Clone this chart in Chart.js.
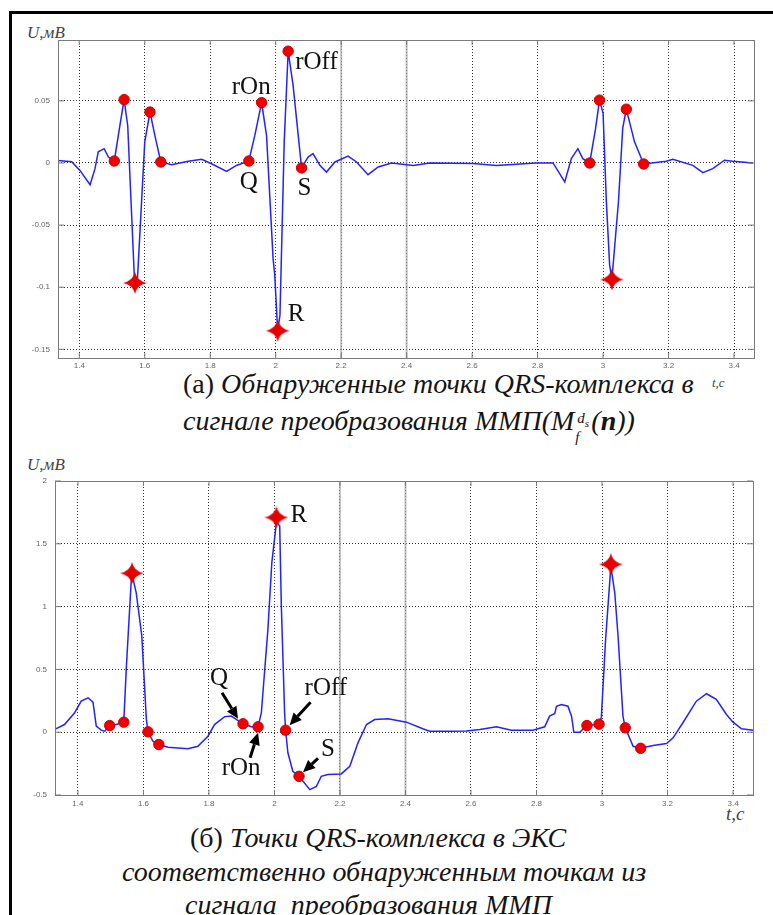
<!DOCTYPE html>
<html>
<head>
<meta charset="utf-8">
<script src="https://cdn.jsdelivr.net/npm/chart.js@4.4.1/dist/chart.umd.min.js"></script>
<style>
body { margin: 0; background: #fff; }
#page { position: relative; width: 773px; height: 915px; overflow: hidden; background: #fff; }
#frame { position: absolute; left: 9px; top: 11px; width: 820px; height: 960px; border: 3px solid #000; }
canvas { position: absolute; left: 0; }
.cap { position: absolute; font-family: serif; font-style: italic; font-size: 28px; line-height: 34px; color: #151515; white-space: nowrap; }
.up { font-style: normal; }
.lab { position: absolute; font-family: serif; font-style: italic; color: #444; white-space: nowrap; }
.ds { display: inline-block; position: relative; width: 17px; height: 20px; }
.ds .sp { position: absolute; left: 3px; top: -9px; font-size: 15px; }
.ds .sp sub { font-size: 11px; }
.ds .sb { position: absolute; left: 1px; top: 10px; font-size: 15px; }
</style>
</head>
<body>
<div id="page">
  <div id="frame"></div>
  <div class="lab" style="left:27px;top:23px;font-size:17px">U,мВ</div>
  <div class="lab" style="left:27px;top:455px;font-size:17px">U,мВ</div>
  <div class="lab" style="left:712px;top:375px;font-size:13px">t,c</div>
  <div class="lab" style="left:726px;top:803px;font-size:19px">t,c</div>

  <div class="cap" style="top:367px;left:183px"><span class="up">(а)</span> Обнаруженные точки QRS-комплекса в</div>
  <div class="cap" style="top:404px;left:183px">сигнале преобразования ММП(M<span class="ds"><span class="sp">d<sub>s</sub></span><span class="sb">f</span></span>(<b>n</b>))</div>

  <div class="cap" style="top:821px;left:190px"><span class="up">(б)</span> Точки QRS-комплекса в ЭКС</div>
  <div class="cap" style="top:855px;left:122px">соответственно обнаруженным точкам из</div>
  <div class="cap" style="top:888px;left:185px">сигнала&nbsp; преобразования ММП</div>

  <canvas id="chartA" width="773" height="380" style="top:0px"></canvas>
  <canvas id="chartB" width="773" height="375" style="top:440px"></canvas>
</div>

<script>
// оси
const xTicks = [1.4, 1.6, 1.8, 2, 2.2, 2.4, 2.6, 2.8, 3, 3.2, 3.4];
const xTickLabels = ['1.4', '1.6', '1.8', '2', '2.2', '2.4', '2.6', '2.8', '3', '3.2', '3.4'];
const yTicksA = [-0.15, -0.1, -0.05, 0, 0.05];
const yTickLabelsA = ['-0.15', '-0.1', '-0.05', '0', '0.05'];
const yTicksB = [-0.5, 0, 0.5, 1, 1.5, 2];
const yTickLabelsB = ['-0.5', '0', '0.5', '1', '1.5', '2'];
const solidGridT = [2.2, 2.4];

// (а) сигнал преобразования ММП
const tA = [1.335, 1.377, 1.402, 1.433, 1.448, 1.458, 1.476, 1.489, 1.507, 1.524, 1.537, 1.548, 1.568, 1.570, 1.578,
  1.600, 1.616, 1.631, 1.649, 1.682, 1.733, 1.774, 1.804, 1.850, 1.880, 1.918, 1.936, 1.957, 1.972, 1.992, 1.997,
  2.006, 2.013, 2.026, 2.038, 2.053, 2.079, 2.099, 2.114, 2.135, 2.155, 2.181, 2.221, 2.247, 2.282, 2.313, 2.354,
  2.420, 2.471, 2.603, 2.674, 2.796, 2.847, 2.883, 2.903, 2.923, 2.938, 2.959, 2.977, 2.989, 3.000, 3.010, 3.020,
  3.027, 3.047, 3.060, 3.071, 3.096, 3.124, 3.193, 3.213, 3.274, 3.305, 3.335, 3.371, 3.396, 3.458];
const uA = [0.002, 0.001, -0.006, -0.0175, -0.0046, 0.009, 0.0115, 0.0048, 0.0016, 0.030, 0.051, 0.030, -0.0906, -0.0965, -0.092,
  0.017, 0.041, 0.022, 0.0008, -0.0014, 0.0014, 0.003, -0.0006, -0.0067, -0.002, 0.0016, 0.022, 0.0486, 0.022, -0.077, -0.090,
  -0.135, -0.1226, 0.017, 0.090, 0.0627, -0.004, 0.0048, 0.0075, -0.0019, -0.0073, 0.0008, 0.0056, 0.0008, -0.0094, -0.0032, 0,
  -0.002, 0, -0.0005, -0.002, 0, 0, -0.0153, 0.0035, 0.0115, 0.0035, 0, 0.0277, 0.0506, 0.040, -0.031, -0.082,
  -0.0938, -0.031, 0.028, 0.0433, 0.017, -0.0008, 0.0014, 0.003, -0.0019, -0.0078, -0.0046, 0.0022, 0.0014, 0];
const dotTA = [1.507, 1.537, 1.616, 1.649, 1.918, 1.957, 2.038, 2.079, 2.959, 2.989, 3.071, 3.124];
const dotUA = [0.0016, 0.051, 0.041, 0.0008, 0.0016, 0.0486, 0.090, -0.004, 0, 0.0506, 0.0433, -0.0008];
const starTA = [1.570, 2.006, 3.027];
const starUA = [-0.0965, -0.135, -0.0938];

// (б) ЭКС
const tB = [1.329, 1.359, 1.390, 1.410, 1.431, 1.446, 1.456, 1.471, 1.482, 1.497, 1.517, 1.540, 1.548, 1.563, 1.565,
  1.578, 1.595, 1.609, 1.614, 1.629, 1.647, 1.675, 1.736, 1.766, 1.797, 1.817, 1.848, 1.868, 1.904, 1.929, 1.950,
  1.960, 1.980, 1.992, 2.006, 2.016, 2.021, 2.031, 2.034, 2.041, 2.056, 2.075, 2.108, 2.128, 2.143, 2.163, 2.204,
  2.230, 2.255, 2.281, 2.306, 2.347, 2.403, 2.453, 2.474, 2.535, 2.586, 2.627, 2.678, 2.723, 2.789, 2.825, 2.840,
  2.856, 2.861, 2.876, 2.896, 2.907, 2.914, 2.932, 2.954, 2.991, 2.998, 3.011, 3.027, 3.039, 3.049, 3.064, 3.071,
  3.095, 3.118, 3.156, 3.197, 3.217, 3.247, 3.288, 3.319, 3.349, 3.380, 3.400, 3.426, 3.461];
const uB = [0.022, 0.061, 0.155, 0.247, 0.274, 0.239, 0.048, 0.016, 0.008, 0.053, 0.061, 0.080, 0.526, 1.218, 1.26,
  1.110, 0.766, 0.100, 0.003, -0.072, -0.098, -0.120, -0.132, -0.112, -0.032, 0.061, 0.123, 0.128, 0.067, 0.043, 0.043,
  0.155, 0.819, 1.351, 1.670, 1.643, 1.005, 0.155, 0.016, -0.164, -0.311, -0.351, -0.457, -0.431, -0.351, -0.337, -0.332,
  -0.271, -0.085, 0.061, 0.101, 0.107, 0.080, 0.027, 0.008, 0.008, 0.010, 0.022, 0.043, 0.016, 0.016, 0.043, 0.128,
  0.149, 0.207, 0.221, 0.207, 0.128, 0.0, 0.0, 0.053, 0.064, 0.120, 0.739, 1.320, 1.110, 0.766, 0.128, 0.035,
  -0.112, -0.128, -0.106, -0.090, -0.045, 0.075, 0.247, 0.306, 0.261, 0.141, 0.080, 0.027, 0.016];
const dotTB = [1.497, 1.540, 1.614, 1.647, 1.904, 1.950, 2.034, 2.075, 2.954, 2.991, 3.071, 3.118];
const dotUB = [0.053, 0.080, 0.003, -0.098, 0.067, 0.043, 0.016, -0.351, 0.053, 0.064, 0.035, -0.128];
const starTB = [1.565, 2.006, 3.027];
const starUB = [1.266, 1.710, 1.337];

const toPts = (xs, ys) => xs.map((x, i) => ({ x: x, y: ys[i] }));

function starMark(w, h, k) {
  const c = document.createElement('canvas');
  c.width = w; c.height = h;
  const g = c.getContext('2d');
  const cx = w / 2, cy = h / 2;
  g.fillStyle = '#e60000';
  g.beginPath();
  g.moveTo(cx, 0);
  g.quadraticCurveTo(cx + k, cy - k, w, cy);
  g.quadraticCurveTo(cx + k, cy + k, cx, h);
  g.quadraticCurveTo(cx - k, cy + k, 0, cy);
  g.quadraticCurveTo(cx - k, cy - k, cx, 0);
  g.fill();
  return c;
}
const star = starMark(24, 22, 2);

// рамка осей и внутренние штрихи как в MATLAB
const boxPlugin = {
  id: 'box',
  beforeDatasetsDraw(chart) {
    const { ctx, chartArea: a, scales } = chart;
    ctx.save();
    ctx.strokeStyle = 'rgba(165,165,165,0.7)';
    ctx.lineWidth = 2;
    solidGridT.forEach(t => {
      const x = scales.x.getPixelForValue(t);
      ctx.beginPath(); ctx.moveTo(x, a.top); ctx.lineTo(x, a.bottom); ctx.stroke();
    });
    ctx.restore();
  },
  afterDraw(chart) {
    const { ctx, chartArea: a, scales } = chart;
    ctx.save();
    ctx.strokeStyle = '#7a7a7a';
    ctx.lineWidth = 1;
    ctx.strokeRect(a.left + 0.5, a.top + 0.5, a.width, a.height);
    ctx.beginPath();
    scales.x.ticks.forEach(t => {
      const x = scales.x.getPixelForValue(t.value);
      ctx.moveTo(x, a.bottom); ctx.lineTo(x, a.bottom - 5);
      ctx.moveTo(x, a.top); ctx.lineTo(x, a.top + 5);
    });
    scales.y.ticks.forEach(t => {
      const y = scales.y.getPixelForValue(t.value);
      ctx.moveTo(a.left, y); ctx.lineTo(a.left + 6, y);
      ctx.moveTo(a.right, y); ctx.lineTo(a.right - 6, y);
    });
    ctx.stroke();
    ctx.restore();
  }
};

// подписи точек и стрелки
const notesPlugin = {
  id: 'notes',
  afterDatasetsDraw(chart, args, opts) {
    const ctx = chart.ctx;
    ctx.save();
    ctx.font = '25px "Liberation Serif", serif';
    ctx.fillStyle = '#111';
    ctx.strokeStyle = '#000';
    ctx.textBaseline = 'alphabetic';
    (opts.items || []).forEach(n => {
      const el = chart.getDatasetMeta(n.ds).data[n.i];
      ctx.textAlign = n.align;
      ctx.fillText(n.text, el.x + n.dx, el.y + n.dy);
      if (n.arrow) {
        const [sx, sy, ex, ey] = n.arrow;
        const x1 = el.x + sx, y1 = el.y + sy, x2 = el.x + ex, y2 = el.y + ey;
        const ang = Math.atan2(y2 - y1, x2 - x1);
        const hl = 12, hw = 5.5;
        const bx = x2 - hl * Math.cos(ang), by = y2 - hl * Math.sin(ang);
        ctx.lineWidth = 3;
        ctx.beginPath(); ctx.moveTo(x1, y1); ctx.lineTo(bx, by); ctx.stroke();
        ctx.beginPath();
        ctx.moveTo(x2, y2);
        ctx.lineTo(bx + hw * Math.sin(ang), by - hw * Math.cos(ang));
        ctx.lineTo(bx - hw * Math.sin(ang), by + hw * Math.cos(ang));
        ctx.closePath();
        ctx.fillStyle = '#000';
        ctx.fill();
        ctx.fillStyle = '#111';
      }
    });
    ctx.restore();
  }
};

function makeChart(id, cfg) {
  return new Chart(document.getElementById(id), {
    type: 'scatter',
    data: {
      datasets: [
        { data: toPts(cfg.t, cfg.u), showLine: true, borderColor: 'rgb(35,35,250)', borderWidth: 1.5, pointRadius: 0, tension: 0, order: 3 },
        { data: toPts(cfg.dotT, cfg.dotU), pointRadius: 5.2, backgroundColor: '#f20000', borderColor: '#cc0000', borderWidth: 1, order: 2 },
        { data: toPts(cfg.starT, cfg.starU), pointStyle: star, order: 1 }
      ]
    },
    options: {
      responsive: false,
      animation: false,
      layout: { padding: cfg.pad },
      plugins: { legend: { display: false }, tooltip: { enabled: false }, notes: { items: cfg.notes } },
      scales: {
        x: {
          type: 'linear', min: cfg.xMin, max: cfg.xMax,
          afterBuildTicks: s => { s.ticks = xTicks.map(v => ({ value: v })); },
          afterFit: s => { s.height = cfg.xH; },
          ticks: { callback: (v, i) => xTickLabels[i], autoSkip: false, maxRotation: 0, padding: cfg.xPad,
            font: { family: 'Liberation Sans', size: 8 }, color: '#666' },
          grid: { color: 'rgba(30,30,30,0.9)', lineWidth: 1, drawTicks: false },
          border: { display: false, dash: [1, 2] }
        },
        y: {
          type: 'linear', min: cfg.yMin, max: cfg.yMax,
          afterBuildTicks: s => { s.ticks = cfg.yTicks.map(v => ({ value: v })); },
          afterFit: s => { s.width = cfg.yW; },
          ticks: { callback: (v, i) => cfg.yLabels[i], autoSkip: false, padding: 8,
            font: { family: 'Liberation Sans', size: 8 }, color: '#666' },
          grid: { color: 'rgba(30,30,30,0.9)', lineWidth: 1, drawTicks: false },
          border: { display: false, dash: [1, 2] }
        }
      }
    },
    plugins: [boxPlugin, notesPlugin]
  });
}

makeChart('chartA', {
  t: tA, u: uA, dotT: dotTA, dotU: dotUA, starT: starTA, starU: starUA,
  xMin: 1.335, xMax: 3.461, yMin: -0.157, yMax: 0.099,
  yTicks: yTicksA, yLabels: yTickLabelsA,
  pad: { top: 40, right: 19, left: 0, bottom: 0 }, xH: 22, yW: 58, xPad: 3,
  notes: [
    { ds: 1, i: 5, text: 'rOn', align: 'right', dx: 9, dy: -9 },
    { ds: 1, i: 6, text: 'rOff', align: 'left', dx: 7, dy: 18 },
    { ds: 1, i: 4, text: 'Q', align: 'center', dx: 0, dy: 28 },
    { ds: 1, i: 7, text: 'S', align: 'center', dx: 3, dy: 27 },
    { ds: 2, i: 1, text: 'R', align: 'left', dx: 10, dy: -10 }
  ]
});

makeChart('chartB', {
  t: tB, u: uB, dotT: dotTB, dotU: dotUB, starT: starTB, starU: starUB,
  xMin: 1.33, xMax: 3.461, yMin: -0.5, yMax: 2,
  yTicks: yTicksB, yLabels: yTickLabelsB,
  pad: { top: 41, right: 20, left: 0, bottom: 0 }, xH: 20, yW: 55, xPad: 4,
  notes: [
    { ds: 2, i: 1, text: 'R', align: 'left', dx: 14, dy: 5 },
    { ds: 1, i: 4, text: 'Q', align: 'center', dx: -24, dy: -39, arrow: [-21, -31, -5, -5] },
    { ds: 1, i: 6, text: 'rOff', align: 'left', dx: 19, dy: -35, arrow: [25, -28, 4, -5] },
    { ds: 1, i: 5, text: 'rOn', align: 'center', dx: -17, dy: 48, arrow: [-8, 31, 0, 6] },
    { ds: 1, i: 7, text: 'S', align: 'left', dx: 22, dy: -20, arrow: [19, -18, 4, -4] }
  ]
});
</script>
</body>
</html>
